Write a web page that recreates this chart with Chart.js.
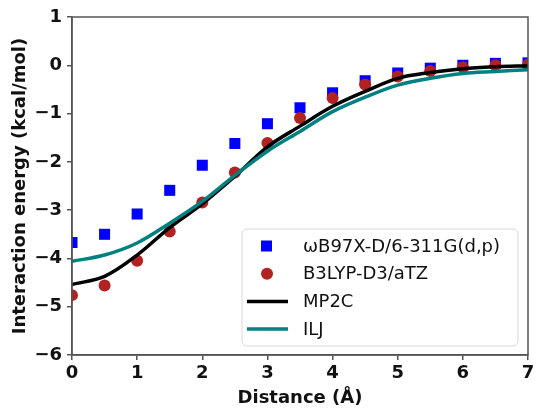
<!DOCTYPE html>
<html>
<head>
<meta charset="utf-8">
<script src="https://cdn.jsdelivr.net/npm/chart.js@4"></script>
<style>
  html, body { margin: 0; padding: 0; background: #fff; }
  #wrap { width: 538px; height: 412px; }
</style>
</head>
<body>
<div id="wrap"><canvas id="energyChart"></canvas></div>
<script>
// interaction energy vs. distance, kcal/mol
const distance = [0, 0.5, 1, 1.5, 2, 2.5, 3, 3.5, 4, 4.5, 5, 5.5, 6, 6.5, 7];
const wb97xd = [-3.67, -3.50, -3.08, -2.59, -2.07, -1.62, -1.21, -0.88, -0.57, -0.32, -0.16, -0.06, 0.00, 0.04, 0.05];
const b3lyp = [-4.76, -4.56, -4.05, -3.44, -2.84, -2.22, -1.61, -1.09, -0.68, -0.40, -0.23, -0.12, -0.04, 0.00, 0.01];
const mp2c = [-4.54, -4.37, -3.93, -3.36, -2.87, -2.30, -1.69, -1.26, -0.85, -0.54, -0.27, -0.15, -0.07, -0.03, -0.01];
const ilj = [-4.06, -3.93, -3.68, -3.27, -2.82, -2.28, -1.78, -1.37, -0.96, -0.66, -0.41, -0.27, -0.17, -0.13, -0.09];
const seriesNames = ['ωB97X-D/6-311G(d,p)', 'B3LYP-D3/aTZ', 'MP2C', 'ILJ'];
const xTicks = [0, 1, 2, 3, 4, 5, 6, 7];
const yTicks = [-6, -5, -4, -3, -2, -1, 0, 1];

const pts = ys => distance.map((x, i) => ({x: x, y: ys[i]}));
const fmt = v => (v < 0 ? '\u2212' + Math.abs(v) : String(v));

// top/right spines plus an in-plot legend box
const framePlugin = {
  id: 'frame',
  afterDraw(chart) {
    const {ctx, chartArea: a} = chart;
    ctx.save();
    ctx.strokeStyle = '#555';
    ctx.lineWidth = 1.5;
    ctx.strokeRect(a.left, a.top, a.right - a.left, a.bottom - a.top);

    const bx = 242, by = 229, bw = 276, bh = 117;
    ctx.beginPath();
    ctx.roundRect(bx, by, bw, bh, 5);
    ctx.fillStyle = 'rgba(255,255,255,0.8)';
    ctx.fill();
    ctx.strokeStyle = '#d8d8d8';
    ctx.lineWidth = 1;
    ctx.stroke();

    const ds = chart.data.datasets;
    ctx.font = '18px "DejaVu Sans"';
    ctx.textBaseline = 'middle';
    ds.forEach((d, i) => {
      const y = by + 17 + i * 27.7;
      if (d.showLine === false) {
        ctx.fillStyle = d.backgroundColor;
        if (d.pointStyle === 'rect') {
          ctx.fillRect(261, y - 5.5, 11, 11);
        } else {
          ctx.beginPath();
          ctx.arc(267, y, 6, 0, Math.PI * 2);
          ctx.fill();
        }
      } else {
        ctx.strokeStyle = d.borderColor;
        ctx.lineWidth = d.borderWidth;
        ctx.beginPath();
        ctx.moveTo(247, y);
        ctx.lineTo(288, y);
        ctx.stroke();
      }
      ctx.fillStyle = '#111';
      ctx.fillText(d.label, 303, y + 1);
    });
    ctx.restore();
  }
};

new Chart(document.getElementById('energyChart'), {
  type: 'scatter',
  data: {
    datasets: [
      {
        label: seriesNames[0], data: pts(wb97xd), showLine: false,
        pointStyle: 'rect', pointRadius: 7.8, borderWidth: 0,
        backgroundColor: '#0000ff', clip: 0, order: 4
      },
      {
        label: seriesNames[1], data: pts(b3lyp), showLine: false,
        pointStyle: 'circle', pointRadius: 6, borderWidth: 0,
        backgroundColor: '#b22222', clip: 0, order: 3
      },
      {
        label: seriesNames[2], data: pts(mp2c), showLine: true,
        borderColor: '#000000', borderWidth: 3.5, pointRadius: 0,
        tension: 0.35, clip: 0, order: 2
      },
      {
        label: seriesNames[3], data: pts(ilj), showLine: true,
        borderColor: '#008080', borderWidth: 3.5, pointRadius: 0,
        tension: 0.35, clip: 0, order: 1
      }
    ]
  },
  options: {
    responsive: true,
    maintainAspectRatio: false,
    animation: false,
    layout: { padding: { top: 17, right: 10, bottom: 0, left: 0 } },
    plugins: { legend: { display: false }, tooltip: { enabled: false } },
    scales: {
      x: {
        type: 'linear', min: 0, max: 7,
        afterBuildTicks: s => { s.ticks = xTicks.map(v => ({value: v})); },
        afterFit: s => { s.height = 57; },
        grid: { drawOnChartArea: false, tickLength: 5, color: '#555', lineWidth: 1.5 },
        border: { color: '#555', width: 1.5 },
        ticks: {
          color: '#111', padding: 3,
          font: { family: 'DejaVu Sans', size: 18, weight: 'bold' },
          callback: v => fmt(v)
        },
        title: {
          display: true, text: 'Distance (Å)', color: '#111',
          font: { family: 'DejaVu Sans', size: 18, weight: 'bold' },
          padding: { top: 0, bottom: 3 }
        }
      },
      y: {
        type: 'linear', min: -6, max: 1,
        afterBuildTicks: s => { s.ticks = yTicks.map(v => ({value: v})); },
        afterFit: s => { s.width = 72; },
        grid: { drawOnChartArea: false, tickLength: 5, color: '#555', lineWidth: 1.5 },
        border: { color: '#555', width: 1.5 },
        ticks: {
          color: '#111', padding: 5,
          font: { family: 'DejaVu Sans', size: 18, weight: 'bold' },
          callback: v => fmt(v)
        },
        title: {
          display: true, text: 'Interaction energy (kcal/mol)', color: '#111',
          font: { family: 'DejaVu Sans', size: 18, weight: 'bold' },
          padding: { top: 10, bottom: 0 }
        }
      }
    }
  },
  plugins: [framePlugin]
});
</script>
</body>
</html>
